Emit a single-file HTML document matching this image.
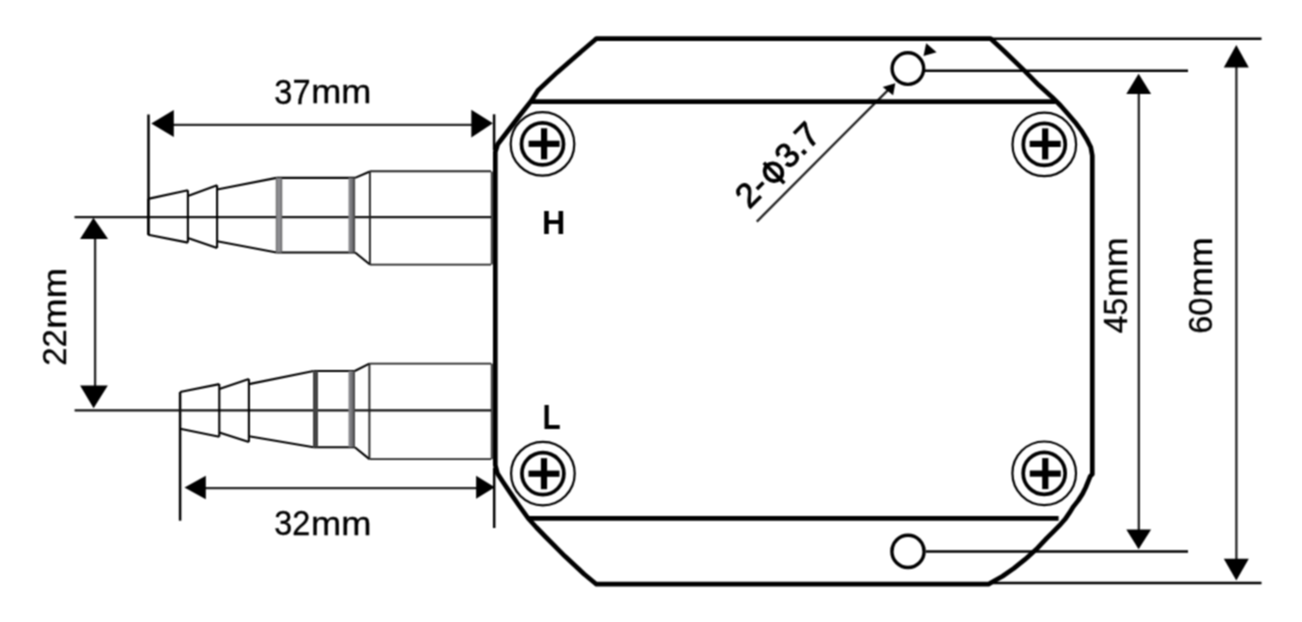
<!DOCTYPE html>
<html>
<head>
<meta charset="utf-8">
<style>
html,body{margin:0;padding:0;background:#fff;}
body{width:1302px;height:622px;overflow:hidden;}
svg{display:block;}
text{font-family:"Liberation Sans",sans-serif;fill:#000;stroke:#000;stroke-width:0.35px;}
</style>
</head>
<body>
<svg width="1302" height="622" viewBox="0 0 1302 622">
<defs><filter id="bl" filterUnits="userSpaceOnUse" x="0" y="0" width="1302" height="622" color-interpolation-filters="sRGB"><feConvolveMatrix order="3" kernelMatrix="1 2 1 2 4 2 1 2 1" divisor="16" edgeMode="duplicate"/></filter></defs>
<rect x="0" y="0" width="1302" height="622" fill="#fff"/>
<g filter="url(#bl)">

<!-- ===== extension / dimension lines (thin) ===== -->
<g stroke="#000" stroke-width="2.5" fill="none">
  <line x1="991" y1="38.8" x2="1261.5" y2="38.8"/>
  <line x1="925" y1="70.7" x2="1188" y2="70.7"/>
  <line x1="926" y1="551.6" x2="1188" y2="551.6"/>
  <line x1="989" y1="583.1" x2="1261.5" y2="583.1"/>
  <line x1="148.5" y1="114.5" x2="148.5" y2="235"/>
  <line x1="494.1" y1="114.3" x2="494.1" y2="150"/>
  <line x1="180.1" y1="392" x2="180.1" y2="520.7"/>
  <line x1="494.2" y1="468" x2="494.2" y2="528"/>
</g>
<g stroke="#111" stroke-width="2.2" fill="none">
  <line x1="74.5" y1="217.2" x2="491" y2="217.2"/>
  <line x1="74.6" y1="410.4" x2="491" y2="410.4"/>
</g>
<g stroke="#222" stroke-width="2.3" fill="none">
  <line x1="756.8" y1="221.6" x2="888" y2="90.1"/>
  <line x1="1138.8" y1="90" x2="1138.8" y2="533"/>
  <line x1="1236.4" y1="64" x2="1236.4" y2="562"/>
  <line x1="95.1" y1="236" x2="95.1" y2="389"/>
  <line x1="170" y1="124.9" x2="475" y2="124.9"/>
  <line x1="203" y1="488.2" x2="478" y2="488.2"/>
</g>

<!-- arrowheads -->
<g fill="#000" stroke="none">
  <polygon points="1138.6,73.8 1126.3,93.9 1151.1,93.9"/>
  <polygon points="1138.6,549.2 1126.3,529.4 1151.1,529.4"/>
  <polygon points="1236.3,44.9 1223.8,67.4 1248.8,67.4"/>
  <polygon points="1236.3,580.4 1223.8,558.7 1248.8,558.7"/>
  <polygon points="93.4,217.7 80.1,238.9 108.1,238.9"/>
  <polygon points="93.6,408.3 80.1,385.4 107.8,385.4"/>
  <polygon points="151.3,123.4 173.8,110.1 173.8,137"/>
  <polygon points="492.9,123.2 471.3,109.8 471.3,137.4"/>
  <polygon points="184.5,487.4 205.8,475.7 205.8,499.2"/>
  <polygon points="494.8,487.3 476.1,475.7 476.1,498.8"/>
  <polygon points="895.3,83.3 882.7,87.1 893.1,95.3"/>
  <polygon points="936.6,52.3 926.2,43.3 923.5,56.1"/>
</g>

<!-- ===== fittings ===== -->
<defs>
  <linearGradient id="hg" x1="0" y1="0" x2="1" y2="0">
    <stop offset="0" stop-color="#8c8c90"/><stop offset="0.45" stop-color="#7a7a7e"/><stop offset="1" stop-color="#3e3e3e"/>
  </linearGradient>
  <linearGradient id="hg2" x1="0" y1="0" x2="1" y2="0">
    <stop offset="0" stop-color="#5a5a5a"/><stop offset="0.25" stop-color="#8c8c90"/><stop offset="0.7" stop-color="#8c8c90"/><stop offset="1" stop-color="#5a5a5a"/>
  </linearGradient>
</defs>
<g stroke="#000" stroke-width="2.1" fill="none" stroke-linejoin="miter">
  <!-- top fitting -->
  <path d="M148.2,198.9 L187.9,190.3 M148.2,234.8 L187.9,242.6 M187.9,190.3 L187.9,242.6"/>
  <path d="M187.9,196 L217.1,185.2 M187.9,238 L217.1,248.1 M217.1,185.2 L217.1,248.1"/>
  <path d="M217.1,189.5 L276.5,177.9 M217.1,241.2 L276.5,252.5"/>
  <path d="M276.5,177.9 L355.1,177.9 M276.5,252.5 L355.1,252.5"/>
  <path d="M355.1,177.9 L369.9,171.5 M355.1,252.5 L369.9,264.5"/>
  <path d="M148.2,198.9 L148.2,234.8"/>
  <!-- bottom fitting -->
  <path d="M180.1,392 L219.3,384.1 M180.1,428.7 L219.3,436.8 M219.3,384.1 L219.3,436.8"/>
  <path d="M219.3,389 L248.9,378.9 M219.3,432.5 L248.9,442 M248.9,378.9 L248.9,442"/>
  <path d="M248.9,384.1 L313.6,371 M248.9,436.2 L313.6,447.2"/>
  <path d="M313.6,371 L354.8,371 M313.6,447.2 L354.8,447.2"/>
  <path d="M354.8,371 L369.4,363.6 M354.8,447.2 L369.4,459.1"/>
</g>
<g stroke="#222" stroke-width="1.9" fill="none">
  <path d="M369.9,171.3 L491,171.3 M369.9,264.6 L491,264.6 M369.9,171.3 L369.9,264.6"/>
  <path d="M369.4,363.6 L491.2,363.6 M369.4,459.1 L491.2,459.1 M369.4,363.6 L369.4,459.1"/>
</g>
<!-- hex grey bars -->
<g stroke="none">
  <rect x="275.8" y="177.9" width="6.4" height="74.6" fill="url(#hg2)"/>
  <rect x="348.5" y="177.9" width="6.6" height="74.6" fill="url(#hg)"/>
  <rect x="313" y="371" width="5" height="76.2" fill="#444"/>
  <rect x="348.5" y="371" width="6.5" height="76.2" fill="url(#hg)"/>
</g>

<!-- ===== body ===== -->
<g stroke="#000" stroke-width="4.7" fill="none" stroke-linejoin="round" stroke-linecap="butt">
  <path d="M596.4,38.6 L990.5,38.6 L1004.3,51.2 L1023.6,69.9 L1039,85.3 L1051.9,96.9 L1060.5,105.5 L1067.8,113.8 L1075.1,122.2 L1081.4,130.6 L1086.6,138.9 L1090.8,147.3 L1092.3,155.7 L1092.3,474.2 L1090.2,476.3 L1088.3,481.1 L1085.7,487.5 L1082.5,493.9 L1078.3,500.4 L1073.4,506.6 L1069.4,512.9 L1065,519.3 L1059.3,525.7 L1052.9,532.2 L1046.6,538.4 L1036.3,549.3 L1025,559.4 L1013.8,568.4 L1002.5,576.3 L991.3,582.5 L988.5,584.2 L596.4,584.2 L584.3,574.3 L565,556.3 L545.7,537 L536.5,527.5 L528.3,518.5 L519,505.5 L511,493.8 L503,482 L497.5,473.5 L495.3,465 L495.3,152 L497.7,144.3 L508.8,129.8 L519.9,115.3 L531.4,100.8 L537.9,90.5 L557.2,72.4 L576.4,55.7 L594.5,40.3 Z"/>
  <line x1="532" y1="101.6" x2="1055.5" y2="101.6"/>
  <line x1="529" y1="518.4" x2="1058.6" y2="518.4"/>
</g>
<g stroke="#333" stroke-width="2">
  <line x1="491.8" y1="171.5" x2="491.8" y2="264.5"/>
  <line x1="491.8" y1="363.6" x2="491.8" y2="459.1"/>
</g>

<!-- screws -->
<g fill="none" stroke="#000">
  <circle cx="542.5" cy="143.9" r="31.8" stroke-width="2.2"/>
  <circle cx="542.5" cy="143.9" r="21" stroke-width="3.7"/>
  <circle cx="1044.3" cy="144.4" r="31.8" stroke-width="2.2"/>
  <circle cx="1044.3" cy="144.4" r="21" stroke-width="3.7"/>
  <circle cx="542.9" cy="473.6" r="31.8" stroke-width="2.2"/>
  <circle cx="542.9" cy="473.6" r="21" stroke-width="3.7"/>
  <circle cx="1044.2" cy="473.3" r="31.8" stroke-width="2.2"/>
  <circle cx="1044.2" cy="473.3" r="21" stroke-width="3.7"/>
</g>
<g fill="#000">
  <rect x="528.6" y="140.70" width="31" height="6.2"/><rect x="541.00" y="128.3" width="6.2" height="31"/>
  <rect x="1029.7" y="140.80" width="31" height="6.2"/><rect x="1042.10" y="128.4" width="6.2" height="31"/>
  <rect x="528.5" y="470.60" width="31" height="6.2"/><rect x="540.90" y="458.2" width="6.2" height="31"/>
  <rect x="1029.8" y="470.50" width="31" height="6.2"/><rect x="1042.20" y="458.1" width="6.2" height="31"/>
</g>

<!-- mounting holes -->
<g fill="#fff" stroke="#000" stroke-width="3.4">
  <circle cx="907.9" cy="68.6" r="15.8"/>
  <circle cx="908" cy="551.4" r="16.1"/>
</g>

<!-- ===== text ===== -->
<text x="0" y="0" font-size="36" transform="matrix(0.9047,0.0000,0.0000,0.9961,274.3691,103.5519)">37</text>
<text x="0" y="0" font-size="36" transform="matrix(1.0036,0.0000,0.0000,0.9266,311.1419,103.2684)">mm</text>
<text x="0" y="0" font-size="36" transform="matrix(0.8993,0.0000,0.0000,0.9709,274.1758,535.1146)">32</text>
<text x="0" y="0" font-size="36" transform="matrix(1.0072,0.0000,0.0000,0.9266,311.0338,535.1684)">mm</text>
<text x="0" y="0" font-size="36" transform="matrix(0.0000,-0.9116,0.9314,0.0000,66.2672,365.6952)">22</text>
<text x="0" y="0" font-size="36" transform="matrix(0.0000,-1.0108,0.9418,0.0000,66.3646,328.6743)">mm</text>
<text x="0" y="0" font-size="36" transform="matrix(0.0000,-0.8816,0.9098,0.0000,1127.1451,333.1612)">45</text>
<text x="0" y="0" font-size="36" transform="matrix(0.0000,-0.9982,0.9291,0.0000,1127.3677,297.2459)">mm</text>
<text x="0" y="0" font-size="36" transform="matrix(0.0000,-0.9054,0.9476,0.0000,1212.0262,333.7845)">60</text>
<text x="0" y="0" font-size="36" transform="matrix(0.0000,-0.9946,0.9215,0.0000,1212.1696,297.0378)">mm</text>
<g transform="translate(751.4,207.4) rotate(-45)" style="stroke-width:1.1px">
  <text x="-3.2" y="0" font-size="34" style="stroke-width:1px">2-</text>
  <ellipse cx="40.5" cy="-9.3" rx="8.4" ry="9.2" fill="none" stroke="#000" stroke-width="3.8"/>
  <line x1="40.4" y1="-22.8" x2="40.4" y2="6.2" stroke="#000" stroke-width="3.6"/>
  <text x="52.8" y="0" font-size="34" style="stroke-width:1px">3.7</text>
</g>
<text x="0" y="0" font-size="33" font-weight="bold" style="stroke-width:0" transform="matrix(0.9795,0.0000,0.0000,0.9890,542.0962,234.2000)">H</text>
<text x="0" y="0" font-size="35" font-weight="bold" style="stroke-width:0" transform="matrix(0.8500,0.0000,0.0000,1.0250,542.3875,428.7000)">L</text>
</g>
</svg>
</body>
</html>
